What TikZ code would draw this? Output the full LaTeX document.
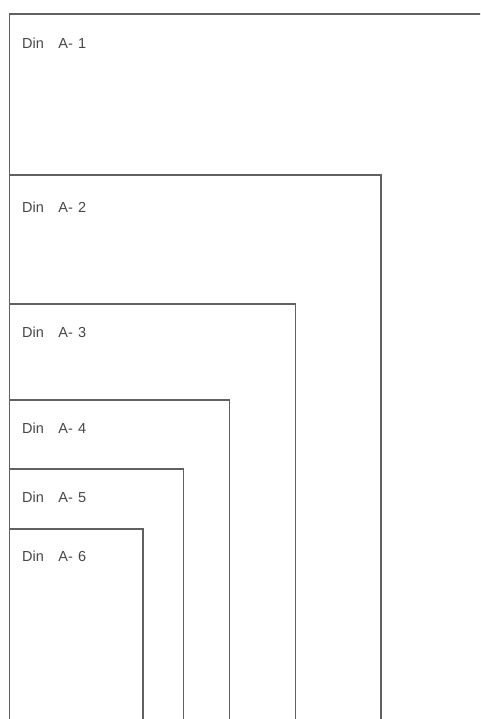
\documentclass[tikz,border=0pt]{standalone}
\usepackage{fontspec}
\setmainfont{Liberation Sans}
\usepackage{tikz}
\usetikzlibrary{positioning}

\begin{document}
\begin{tikzpicture}[
    x=1pt, y=1pt,
    sheet/.style={draw=black!62, line width=1.3pt},
    sheetlabel/.style={anchor=west, inner sep=0pt, text=black!72, font=\fontsize{14.5}{17}\selectfont}
]

% Frame
\useasboundingbox (0,0) rectangle (480,719);
\clip (0,0) rectangle (480,719);

% Sheet corners (top left and top right)
\coordinate (a1) at (9.5,705);   \coordinate (a1r) at (490,705);
\coordinate (a2) at (9.5,544);   \coordinate (a2r) at (381,544);
\coordinate (a3) at (9.5,415);   \coordinate (a3r) at (295.5,415);
\coordinate (a4) at (9.5,319);   \coordinate (a4r) at (229.5,319);
\coordinate (a5) at (9.5,250);   \coordinate (a5r) at (183.5,250);
\coordinate (a6) at (9.5,190);   \coordinate (a6r) at (143,190);

% Sheets
\draw [sheet] (9.5,-10) -- (a1) -- (a1r);
\draw [sheet] (a2) -- (a2r) -- (381,-10);
\draw [sheet] (a3) -- (a3r) -- (295.5,-10);
\draw [sheet] (a4) -- (a4r) -- (229.5,-10);
\draw [sheet] (a5) -- (a5r) -- (183.5,-10);
\draw [sheet] (a6) -- (a6r) -- (143,-10);

% Labels
\node (lab1) [sheetlabel] at (22,676) {Din\hspace{1em}A-\hspace{0.35em}1};
\node (lab2) [sheetlabel] at (22,512) {Din\hspace{1em}A-\hspace{0.35em}2};
\node (lab3) [sheetlabel] at (22,387) {Din\hspace{1em}A-\hspace{0.35em}3};
\node (lab4) [sheetlabel] at (22,291) {Din\hspace{1em}A-\hspace{0.35em}4};
\node (lab5) [sheetlabel] at (22,222) {Din\hspace{1em}A-\hspace{0.35em}5};
\node (lab6) [sheetlabel] at (22,163) {Din\hspace{1em}A-\hspace{0.35em}6};

\end{tikzpicture}
\end{document}
